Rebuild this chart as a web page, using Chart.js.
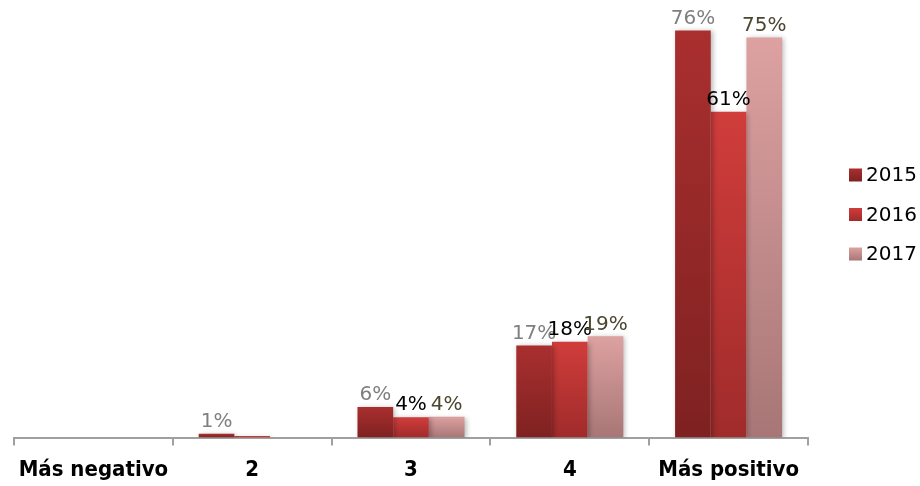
<!DOCTYPE html>
<html>
<head>
<meta charset="utf-8">
<script src="https://cdn.jsdelivr.net/npm/chart.js@4.4.1/dist/chart.umd.min.js"></script>
<style>
  html, body { margin: 0; padding: 0; background: #fff; }
  #wrap { width: 920px; height: 486px; position: relative; }
</style>
</head>
<body>
<div id="wrap"><canvas id="chart"></canvas></div>
<script>
const categories = ['Más negativo', '2', '3', '4', 'Más positivo'];
const seriesNames = ['2015', '2016', '2017'];
const values2015 = [0, 0.7, 5.7, 17.2, 76];
const values2016 = [0, 0.3, 3.8, 17.9, 60.8];
const values2017 = [0, 0, 3.9, 18.9, 74.7];

// top / bottom colours of each series gradient
const gradTops = ['#aa2f2f', '#d03d3b', '#dda1a1'];
const gradBottoms = ['#7f2121', '#a02b2b', '#a87676'];
const labelColors = ['#7f7f7f', '#000000', '#4b4630'];

const barGradient = (ctx, i) => {
  const chart = ctx.chart;
  if (!chart.chartArea || ctx.parsed == null) return gradTops[i];
  const y = chart.scales.y;
  const top = y.getPixelForValue(ctx.parsed.y);
  const bottom = y.getPixelForValue(0);
  if (!(bottom - top > 0.5)) return gradTops[i];
  const g = chart.ctx.createLinearGradient(0, top, 0, bottom);
  g.addColorStop(0, gradTops[i]);
  g.addColorStop(1, gradBottoms[i]);
  return g;
};

// soft shadow behind the bars
const barShadow = {
  id: 'barShadow',
  beforeDatasetsDraw(chart) {
    const c = chart.ctx;
    c.save();
    c.shadowColor = 'rgba(0,0,0,0.28)';
    c.shadowBlur = 5;
    c.shadowOffsetX = 2;
    c.shadowOffsetY = 1;
  },
  afterDatasetsDraw(chart) {
    chart.ctx.restore();
  }
};

// percent labels above the bars
const valueLabels = {
  id: 'valueLabels',
  afterDatasetsDraw(chart) {
    const c = chart.ctx;
    c.save();
    c.font = '20px "DejaVu Sans", sans-serif';
    c.textAlign = 'center';
    c.textBaseline = 'bottom';
    chart.data.datasets.forEach((ds, i) => {
      chart.getDatasetMeta(i).data.forEach((bar, j) => {
        const v = ds.data[j];
        if (v < 0.5) return;
        c.fillStyle = labelColors[i];
        c.fillText(Math.round(v) + '%', bar.x, bar.y - 2);
      });
    });
    c.restore();
  }
};

// legend to the right of the plot
const sideLegend = {
  id: 'sideLegend',
  afterDraw(chart) {
    const c = chart.ctx;
    const x0 = chart.chartArea.right + 41;
    c.save();
    c.font = '20px "DejaVu Sans", sans-serif';
    c.textBaseline = 'middle';
    seriesNames.forEach((name, i) => {
      const yc = 175 + i * 39.5;
      const g = c.createLinearGradient(0, yc - 6.5, 0, yc + 6.5);
      g.addColorStop(0, gradTops[i]);
      g.addColorStop(1, gradBottoms[i]);
      c.fillStyle = g;
      c.fillRect(x0, yc - 6.5, 13, 13);
      c.fillStyle = '#000';
      c.fillText(name, x0 + 17, yc + 1);
    });
    c.restore();
  }
};

const allValues = [values2015, values2016, values2017];

new Chart(document.getElementById('chart'), {
  type: 'bar',
  data: {
    labels: categories,
    datasets: seriesNames.map((name, i) => ({
      label: name,
      data: allValues[i],
      backgroundColor: ctx => barGradient(ctx, i),
      borderWidth: 0,
      categoryPercentage: 0.674,
      barPercentage: 1
    }))
  },
  options: {
    responsive: true,
    maintainAspectRatio: false,
    animation: false,
    layout: { padding: { left: 14, right: 112, top: 9, bottom: -8 } },
    plugins: {
      legend: { display: false },
      tooltip: { enabled: false }
    },
    scales: {
      y: {
        display: false,
        min: 0,
        max: 80
      },
      x: {
        border: { color: '#a0a0a0', width: 2 },
        grid: {
          display: true,
          drawOnChartArea: false,
          color: '#a0a0a0',
          lineWidth: 2,
          tickLength: 8,
          offset: true
        },
        ticks: {
          color: '#000',
          padding: 11,
          font: { family: '"DejaVu Sans Condensed", "Liberation Sans Narrow", "DejaVu Sans", sans-serif', size: 22, weight: 'bold' }
        }
      }
    }
  },
  plugins: [barShadow, valueLabels, sideLegend]
});
</script>
</body>
</html>
